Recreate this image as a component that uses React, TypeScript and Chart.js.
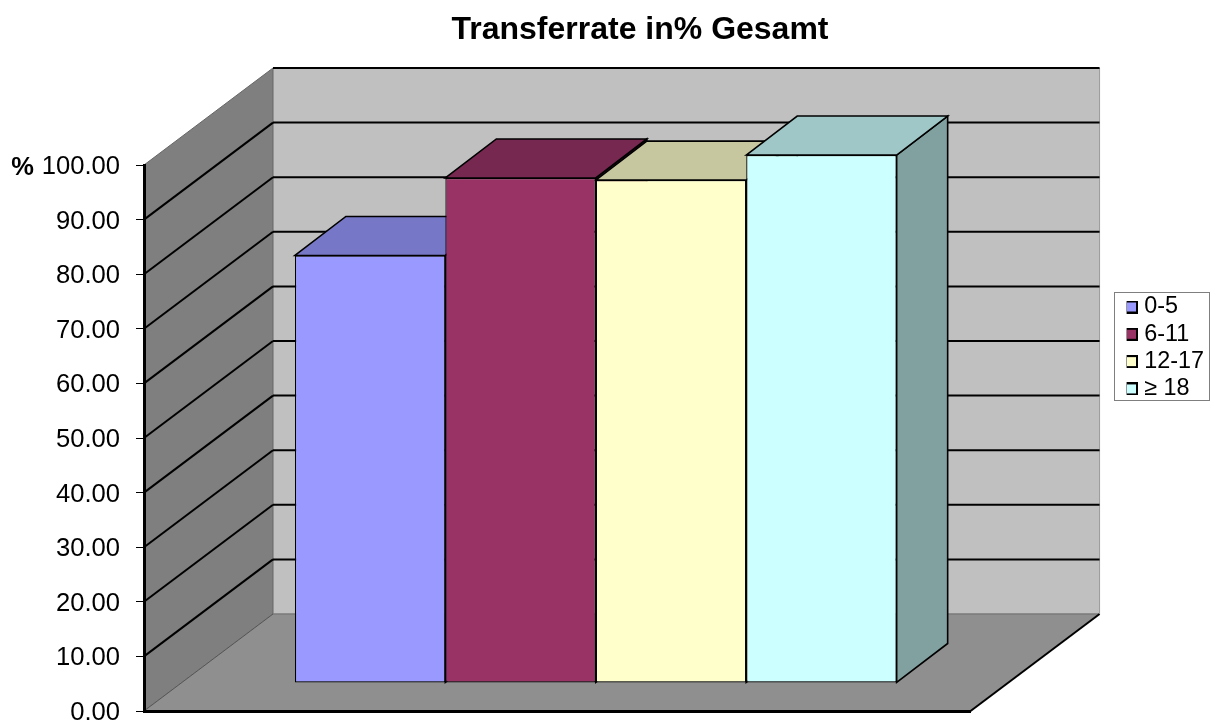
import React, { useEffect, useRef } from "react";
import { Chart, registerables } from "chart.js";

Chart.register(...registerables);

const categories = ["Gesamt"];
const seriesNames = ["0-5", "6-11", "12-17", "≥ 18"];
const seriesValues = [78.3, 92.5, 92.1, 96.7];
const seriesColors = ["#9999FF", "#993366", "#FFFFCC", "#CCFFFF"];
const yTickStep = 10;
const chartTitle = "Transferrate in% Gesamt";
const FONT = "'Liberation Sans', Arial, sans-serif";

// 3D projection used by the walls and bars
const WALL_DX = 129;
const WALL_DY = -97;
const BAR_DX = 38.5;
const BAR_DY = -28;
const BAR_DEPTH_DX = 51;
const BAR_DEPTH_DY = -39;
const TOP_SHADE = 0.78;
const SIDE_SHADE = 0.63;

function shade(hex: string, k: number) {
  const n = parseInt(hex.slice(1), 16);
  const r = Math.round(((n >> 16) & 255) * k);
  const g = Math.round(((n >> 8) & 255) * k);
  const b = Math.round((n & 255) * k);
  return `rgb(${r},${g},${b})`;
}

function poly(ctx: CanvasRenderingContext2D, pts: number[][], fill: string | null, stroke: string | null, lw = 1) {
  ctx.beginPath();
  pts.forEach((p, i) => (i ? ctx.lineTo(p[0], p[1]) : ctx.moveTo(p[0], p[1])));
  if (fill) {
    ctx.closePath();
    ctx.fillStyle = fill;
    ctx.fill();
  }
  if (stroke) {
    ctx.strokeStyle = stroke;
    ctx.lineWidth = lw;
    ctx.lineJoin = "miter";
    ctx.stroke();
  }
}

function legendSwatch(color: string) {
  const c = document.createElement("canvas");
  c.width = 13;
  c.height = 13;
  const g = c.getContext("2d")!;
  g.fillStyle = "#000";
  g.fillRect(0, 0, 13, 13);
  g.fillStyle = color;
  g.fillRect(2, 2, 9, 9);
  return c;
}

const walls3d = {
  id: "walls3d",
  afterLayout(chart: any) {
    const t = chart.titleBlock;
    t.left = 64;
    t.right = 1216;
    const l = chart.legend;
    l.left = 1126.6;
    l.right = 1216;
    l.top = 291.4;
    l.bottom = 722;
    l.width = l.right - l.left;
    l.height = l.bottom - l.top;
  },
  beforeDraw(chart: any) {
    const { ctx, chartArea: a } = chart;
    const y = chart.scales.y;
    const y0 = y.getPixelForValue(0);
    const y100 = y.getPixelForValue(100);
    const { left, right } = a;
    ctx.save();
    // back wall
    poly(ctx, [[left + WALL_DX, y100 + WALL_DY], [right + WALL_DX, y100 + WALL_DY], [right + WALL_DX, y0 + WALL_DY], [left + WALL_DX, y0 + WALL_DY]], "#C0C0C0", null);
    // left wall
    poly(ctx, [[left, y0], [left + WALL_DX, y0 + WALL_DY], [left + WALL_DX, y100 + WALL_DY], [left, y100]], "#7F7F7F", "#666666", 1);
    // floor
    poly(ctx, [[left, y0], [right, y0], [right + WALL_DX, y0 + WALL_DY], [left + WALL_DX, y0 + WALL_DY]], "#8F8F8F", null);
    poly(ctx, [[left, y0], [left + WALL_DX, y0 + WALL_DY]], null, "#555555", 1);
    poly(ctx, [[left + WALL_DX, y0 + WALL_DY], [right + WALL_DX, y0 + WALL_DY]], null, "#7A7A7A", 1.5);
    poly(ctx, [[right, y0], [right + WALL_DX, y0 + WALL_DY]], null, "#000000", 2);
    poly(ctx, [[right + WALL_DX, y0 + WALL_DY], [right + WALL_DX, y100 + WALL_DY]], null, "#9A9A9A", 1);
    // grid lines
    for (let v = yTickStep; v <= 100; v += yTickStep) {
      const py = y.getPixelForValue(v);
      if (v < 100) poly(ctx, [[left, py], [left + WALL_DX, py + WALL_DY]], null, "#000000", 2);
      poly(ctx, [[left + WALL_DX, py + WALL_DY], [right + WALL_DX, py + WALL_DY]], null, "#000000", 2);
    }
    ctx.restore();
  },
  beforeDatasetsDraw(chart: any) {
    const { ctx } = chart;
    ctx.save();
    ctx.translate(BAR_DX, BAR_DY);
    chart.data.datasets.forEach((ds: any, i: number) => {
      const el = chart.getDatasetMeta(i).data[0];
      const l = el.x - el.width / 2;
      const r = el.x + el.width / 2;
      const t = el.y;
      const b = el.base;
      poly(ctx, [[r, t], [r + BAR_DEPTH_DX, t + BAR_DEPTH_DY], [r + BAR_DEPTH_DX, b + BAR_DEPTH_DY], [r, b]], shade(ds.backgroundColor, SIDE_SHADE), "#000000", 1.6);
      poly(ctx, [[l, t], [l + BAR_DEPTH_DX, t + BAR_DEPTH_DY], [r + BAR_DEPTH_DX, t + BAR_DEPTH_DY], [r, t]], shade(ds.backgroundColor, TOP_SHADE), "#000000", 1.6);
    });
  },
  afterDatasetsDraw(chart: any) {
    chart.ctx.restore();
  },
  afterDraw(chart: any) {
    const { ctx } = chart;
    const y = chart.scales.y;
    ctx.save();
    ctx.strokeStyle = "#7F7F7F";
    ctx.lineWidth = 1;
    ctx.strokeRect(1114.5, 292.5, 95, 108);
    ctx.fillStyle = "#000000";
    ctx.font = `bold 25.5px ${FONT}`;
    ctx.textAlign = "right";
    ctx.textBaseline = "middle";
    ctx.fillText("%", 34, y.getPixelForValue(100) + 3);
    ctx.restore();
  },
};

export default function App() {
  const ref = useRef<HTMLCanvasElement>(null);
  useEffect(() => {
    const chart = new Chart(ref.current!, {
      type: "bar",
      data: {
        labels: categories,
        datasets: seriesNames.map((name, i) => ({
          label: name,
          data: [seriesValues[i]],
          backgroundColor: seriesColors[i],
          borderColor: "#000000",
          borderWidth: 1.2,
          borderSkipped: false,
          barPercentage: 1,
          categoryPercentage: 0.728,
          clip: false,
        })),
      },
      options: {
        animation: false,
        responsive: false,
        layout: { padding: { left: 0, top: 0, bottom: 11, right: 158 } },
        scales: {
          x: {
            ticks: { display: false },
            grid: { display: false },
            border: { display: true, color: "#000000", width: 3 },
            afterFit: (s: any) => {
              s.height = 0;
              s.paddingLeft = 0;
              s.paddingRight = 0;
            },
          },
          y: {
            min: 0,
            max: 100,
            afterFit: (s: any) => {
              s.width = 144;
              s.paddingTop = 0;
              s.paddingBottom = 0;
            },
            ticks: {
              stepSize: yTickStep,
              padding: 16,
              labelOffset: 2,
              color: "#000000",
              font: { family: FONT, size: 25.6 },
              callback: (v: any) => Number(v).toFixed(2),
            },
            grid: { drawOnChartArea: false, drawTicks: true, tickLength: 8, color: "#000000", lineWidth: 1 },
            border: { display: true, color: "#000000", width: 3 },
          },
        },
        plugins: {
          title: {
            display: true,
            text: chartTitle,
            color: "#000000",
            font: { family: FONT, size: 32, weight: "bold" },
            padding: { top: 10.5, bottom: 116.1 },
          },
          legend: {
            display: true,
            position: "right",
            align: "start",
            labels: {
              usePointStyle: true,
              boxWidth: 2,
              boxHeight: 2,
              padding: 3.9,
              color: "#000000",
              font: { family: FONT, size: 23.4 },
              generateLabels: (c: any) =>
                Chart.defaults.plugins.legend.labels.generateLabels(c).map((it: any, i: number) => ({
                  ...it,
                  pointStyle: legendSwatch(seriesColors[i]),
                })),
            },
          },
          tooltip: { enabled: false },
        },
      } as any,
      plugins: [walls3d as any],
    });
    return () => chart.destroy();
  }, []);
  return <canvas ref={ref} width={1216} height={722} style={{ position: "fixed", left: 0, top: 0, display: "block" }} />;
}
